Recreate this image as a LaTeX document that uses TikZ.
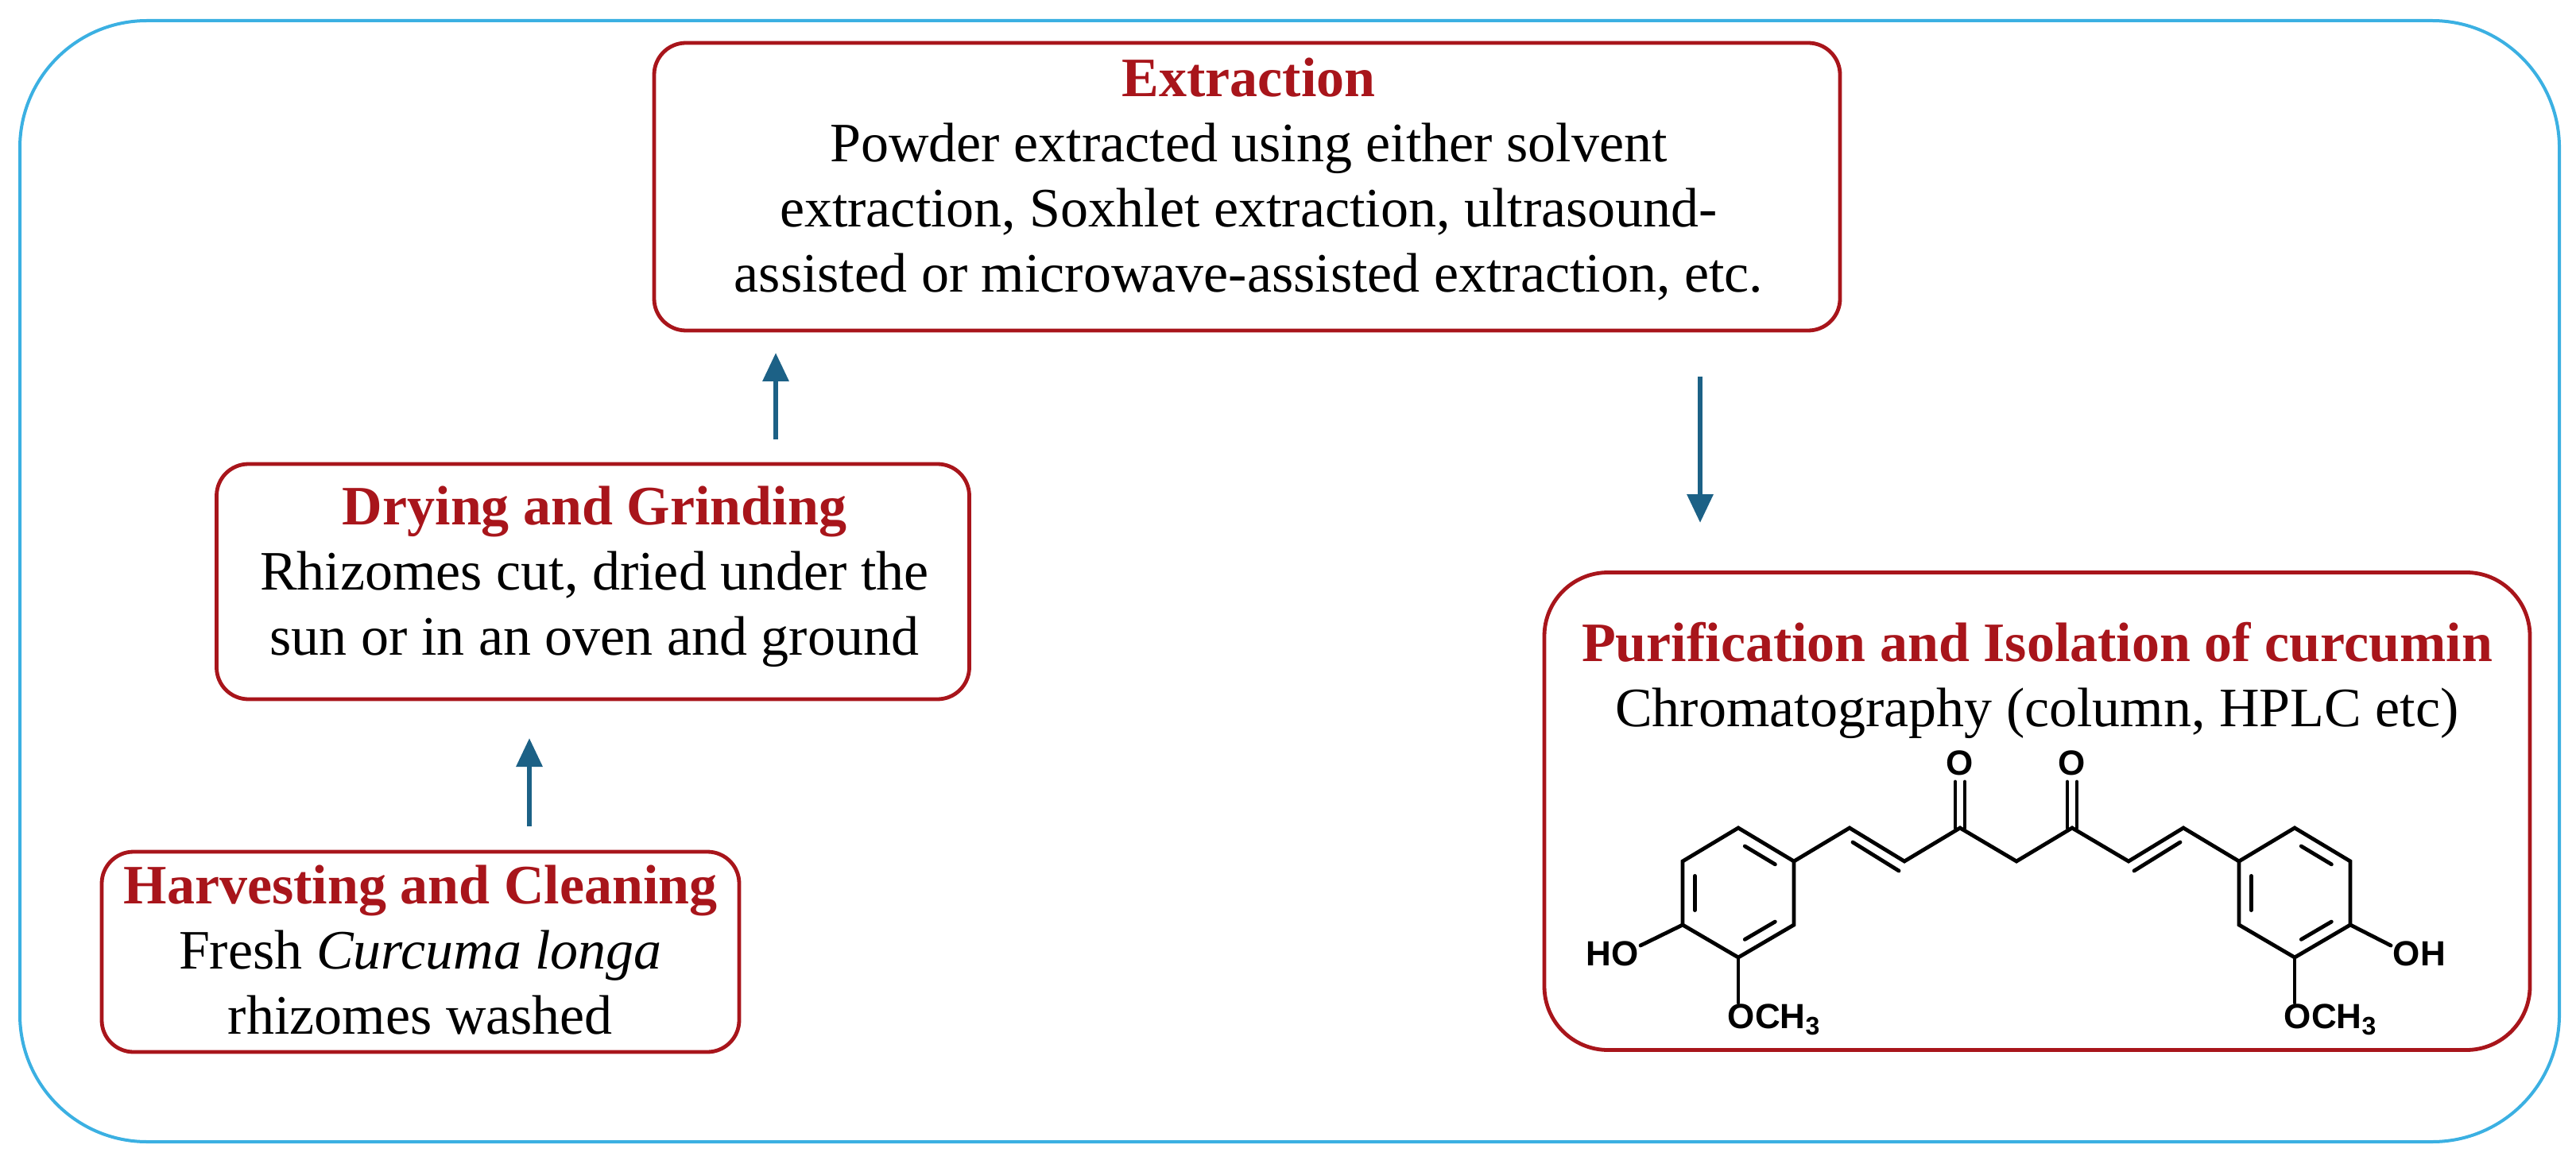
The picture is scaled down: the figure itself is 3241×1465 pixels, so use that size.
\documentclass[tikz,border=0pt]{standalone}
\usepackage{fontspec}
\setmainfont{Liberation Serif}
\newfontfamily\molfont{Liberation Sans}
\usetikzlibrary{arrows.meta,calc}
\definecolor{boxred}{HTML}{A8151B}
\definecolor{arrblue}{HTML}{1C6186}
\definecolor{outblue}{HTML}{3BB0E2}
\begin{document}
\begin{tikzpicture}[x=0.25pt,y=-0.25pt,
  box/.style={draw=boxred,line width=1.2pt,rounded corners=10pt,inner sep=0pt},
  txt/.style={align=center,font=\fontsize{17.5}{20.5}\selectfont,inner sep=0pt},
  arr/.style={draw=arrblue,line width=1.6pt,-{Triangle[width=8pt,length=9pt]}},
  bond/.style={line width=1.2pt,line cap=round},
  inner/.style={bond,shorten >=2.4pt,shorten <=2.4pt},
  atom/.style={font=\molfont\bfseries\fontsize{11}{12}\selectfont,inner sep=0pt}]
\useasboundingbox (0,0) rectangle (3241,1465);
\draw[outblue,line width=1pt,rounded corners=40pt] (25,26) rectangle (3220,1437);

\node[box,minimum width=1492*0.25pt,minimum height=362*0.25pt] (ext) at (1569,235) {};
\node[txt] (extt) at (1571,226) {{\color{boxred}\bfseries Extraction}\\Powder extracted using either solvent\\extraction, Soxhlet extraction, ultrasound-\\assisted or microwave-assisted extraction, etc.};

\node[box,minimum width=947*0.25pt,minimum height=296*0.25pt] (dry) at (746,732) {};
\node[txt] (dryt) at (748,726) {{\color{boxred}\bfseries Drying and Grinding}\\Rhizomes cut, dried under the\\sun or in an oven and ground};

\node[box,minimum width=802*0.25pt,minimum height=252*0.25pt] (har) at (529,1198) {};
\node[txt] (hart) at (529,1196) {{\color{boxred}\bfseries Harvesting and Cleaning}\\Fresh \textit{Curcuma longa}\\rhizomes washed};

\node[box,rounded corners=20pt,minimum width=1240*0.25pt,minimum height=601*0.25pt] (pur) at (2563,1021) {};
\node[txt] (purt) at (2563,856) {{\color{boxred}\bfseries Purification and Isolation of curcumin}\\Chromatography (column, HPLC etc)};

\coordinate (a1s) at (976,553); \coordinate (a1e) at (976,444);
\coordinate (a2s) at (666,1040); \coordinate (a2e) at (666,929);
\coordinate (a3s) at (2139,474); \coordinate (a3e) at (2139,658);
\draw[arr] (a1s) -- (a1e);
\draw[arr] (a2s) -- (a2e);
\draw[arr] (a3s) -- (a3e);

% curcumin
\coordinate (cL) at (2187,1124);
\coordinate (LT) at (2187,1042); \coordinate (LUR) at (2257,1084); \coordinate (LLR) at (2257,1164);
\coordinate (LB) at (2187,1205); \coordinate (LLL) at (2117,1164); \coordinate (LUL) at (2117,1084);
\coordinate (cR) at (2887,1124);
\coordinate (RT) at (2887,1042); \coordinate (RUR) at (2957,1084); \coordinate (RLR) at (2957,1164);
\coordinate (RB) at (2887,1205); \coordinate (RLL) at (2817,1164); \coordinate (RUL) at (2817,1084);
\coordinate (C1) at (2327,1042); \coordinate (C2) at (2396,1084); \coordinate (C3) at (2466,1042);
\coordinate (C4) at (2537,1084); \coordinate (C5) at (2607,1042); \coordinate (C6) at (2678,1084);
\coordinate (C7) at (2747,1042);
\draw[bond] (LT)--(LUR)--(LLR)--(LB)--(LLL)--(LUL)--cycle;
\draw[bond] (RT)--(RUR)--(RLR)--(RB)--(RLL)--(RUL)--cycle;
\draw[bond,line join=miter] (LUR)--(C1)--(C2)--(C3)--(C4)--(C5)--(C6)--(C7)--(RUL);
\foreach \c/\a/\b in {cL/LT/LUR,cL/LLR/LB,cL/LLL/LUL,cR/RT/RUR,cR/RLR/RB,cR/RLL/RUL}
  \draw[inner] ($(\c)!0.78!(\a)$) -- ($(\c)!0.78!(\b)$);
\draw[bond] (2331,1060) -- (2389,1096);
\draw[bond] (2685,1096) -- (2743,1060);
\node[atom] (O1) at (2466,960) {O};
\node[atom] (O2) at (2607,960) {O};
\draw[bond] (2460,984) -- (2460,1042); \draw[bond] (2472,984) -- (2472,1042);
\draw[bond] (2601,984) -- (2601,1042); \draw[bond] (2613,984) -- (2613,1042);
\node[atom,anchor=east] (HO) at (2062,1200) {HO};
\draw[bond] (LLL) -- (2064,1190);
\node[atom,anchor=west] (OH) at (3010,1200) {OH};
\draw[bond] (RLR) -- (3008,1190);
\node[atom,anchor=west] (OM1) at (2173,1283) {OCH\raisebox{-0.35ex}{\fontsize{8}{9}\selectfont 3}};
\draw[bond] (LB) -- (2187,1262);
\node[atom,anchor=west] (OM2) at (2873,1283) {OCH\raisebox{-0.35ex}{\fontsize{8}{9}\selectfont 3}};
\draw[bond] (RB) -- (2887,1262);
\end{tikzpicture}
\end{document}
